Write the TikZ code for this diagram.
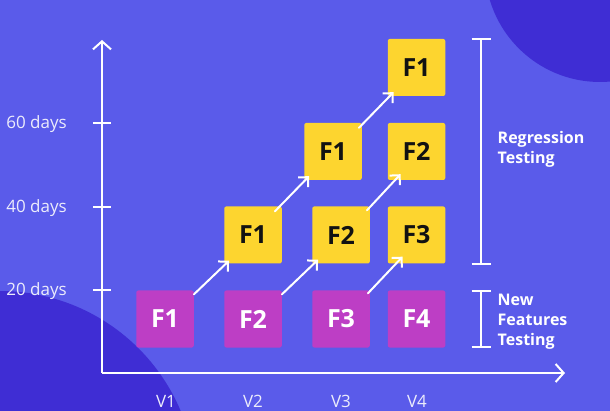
\documentclass[tikz,border=0pt]{standalone}
\usepackage{fontspec}
\setmainfont{Open Sans}
\usetikzlibrary{arrows.meta,calc}
\definecolor{bgc}{HTML}{5A5BEA}
\definecolor{blobc}{HTML}{3F2DD4}
\definecolor{purp}{HTML}{BD3EC5}
\definecolor{yell}{HTML}{FDD52F}
\definecolor{ink}{HTML}{121212}
\definecolor{lite}{HTML}{ECECFB}
\tikzset{
  fbox/.style={minimum width=57.5pt, minimum height=57pt, inner sep=0pt, rounded corners=2pt,
    font=\bfseries\fontsize{25}{25}\selectfont},
  newbox/.style={fbox, fill=purp, text=white},
  regbox/.style={fbox, fill=yell, text=ink},
  axisline/.style={draw=white, line width=2pt, -{Straight Barb[length=8pt,width=18pt,line width=2pt]}},
  link/.style={draw=white, line width=2pt, line cap=round, -{Straight Barb[length=7pt,width=14pt,line width=2pt]}},
  tickline/.style={draw=white, line width=2pt},
  daylabel/.style={anchor=base east, inner sep=0pt, text=lite, font=\fontsize{17}{17}\selectfont},
  verlabel/.style={anchor=base, inner sep=0pt, text=lite, font=\fontsize{17}{17}\selectfont},
  sidelabel/.style={anchor=base west, inner sep=0pt, text=white, font=\bfseries\fontsize{16}{16}\selectfont},
}
\begin{document}
\begin{tikzpicture}[x=1pt,y=-1pt]
\fill[bgc] (0,0) rectangle (610,411);
\useasboundingbox (0,0) rectangle (610,411);
\begin{scope}
  \clip (0,0) rectangle (610,411);
  \fill[blobc] (600,-33) circle[radius=115pt];
  \fill[blobc] (0,487) circle[radius=196pt];
\end{scope}

% axes
\coordinate (O) at (102,373);
\coordinate (ytop) at (102,40);
\coordinate (xend) at (565,373);
\draw[axisline] (O) -- (ytop);
\draw[axisline] (O) -- (xend);

% ticks
\draw[tickline] (93,123) -- (111,123);
\draw[tickline] (93,207) -- (111,207);
\draw[tickline] (93,290) -- (111,290);
\node[daylabel] (d60) at (67,128.5) {60 days};
\node[daylabel] (d40) at (67,212.5) {40 days};
\node[daylabel] (d20) at (67,295.5) {20 days};

% version labels
\node[verlabel] (v1) at (166,407) {V1};
\node[verlabel] (v2) at (253,407) {V2};
\node[verlabel] (v3) at (341,407) {V3};
\node[verlabel] (v4) at (417,407) {V4};

% new feature boxes
\node[newbox] (p1) at (165,319) {F1};
\node[newbox] (p2) at (253,319) {F2};
\node[newbox] (p3) at (341,319) {F3};
\node[newbox] (p4) at (416.5,319) {F4};

% regression boxes
\node[regbox] (a1) at (253,235) {F1};
\node[regbox] (a2) at (341,235) {F2};
\node[regbox] (a3) at (416.5,235) {F3};
\node[regbox] (b1) at (333,151.5) {F1};
\node[regbox] (b2) at (416.5,151.5) {F2};
\node[regbox] (c1) at (416.5,67.5) {F1};

% links
\draw[link] ($(p1.north east)+(0,4)$) -- ($(a1.south west)+(5,-3)$);
\draw[link] ($(p2.north east)+(0,4)$) -- ($(a2.south west)+(6,-4)$);
\draw[link] ($(p3.north east)+(-2,3)$) -- ($(a3.south west)+(15,-7)$);
\draw[link] ($(a1.north east)+(-7,5)$) -- ($(b1.south west)+(5,-4)$);
\draw[link] ($(a2.north east)+(-3,4)$) -- ($(b2.south west)+(13,-6)$);
\draw[link] ($(b1.north east)+(-3,5)$) -- ($(c1.south west)+(6,-4)$);

% brackets
\draw[tickline] (471.5,39) -- (490.5,39) (481,39) -- (481,264) (471.5,264) -- (490.5,264);
\draw[tickline] (471.5,291) -- (490.5,291) (481,291) -- (481,347) (471.5,347) -- (490.5,347);

% side labels
\node[sidelabel] (r1) at (497.5,144) {Regression};
\node[sidelabel] (r2) at (497.5,164) {Testing};
\node[sidelabel] (n1) at (497.5,306) {New};
\node[sidelabel] (n2) at (497.5,326) {Features};
\node[sidelabel] (n3) at (497.5,345.5) {Testing};
\end{tikzpicture}
\end{document}
